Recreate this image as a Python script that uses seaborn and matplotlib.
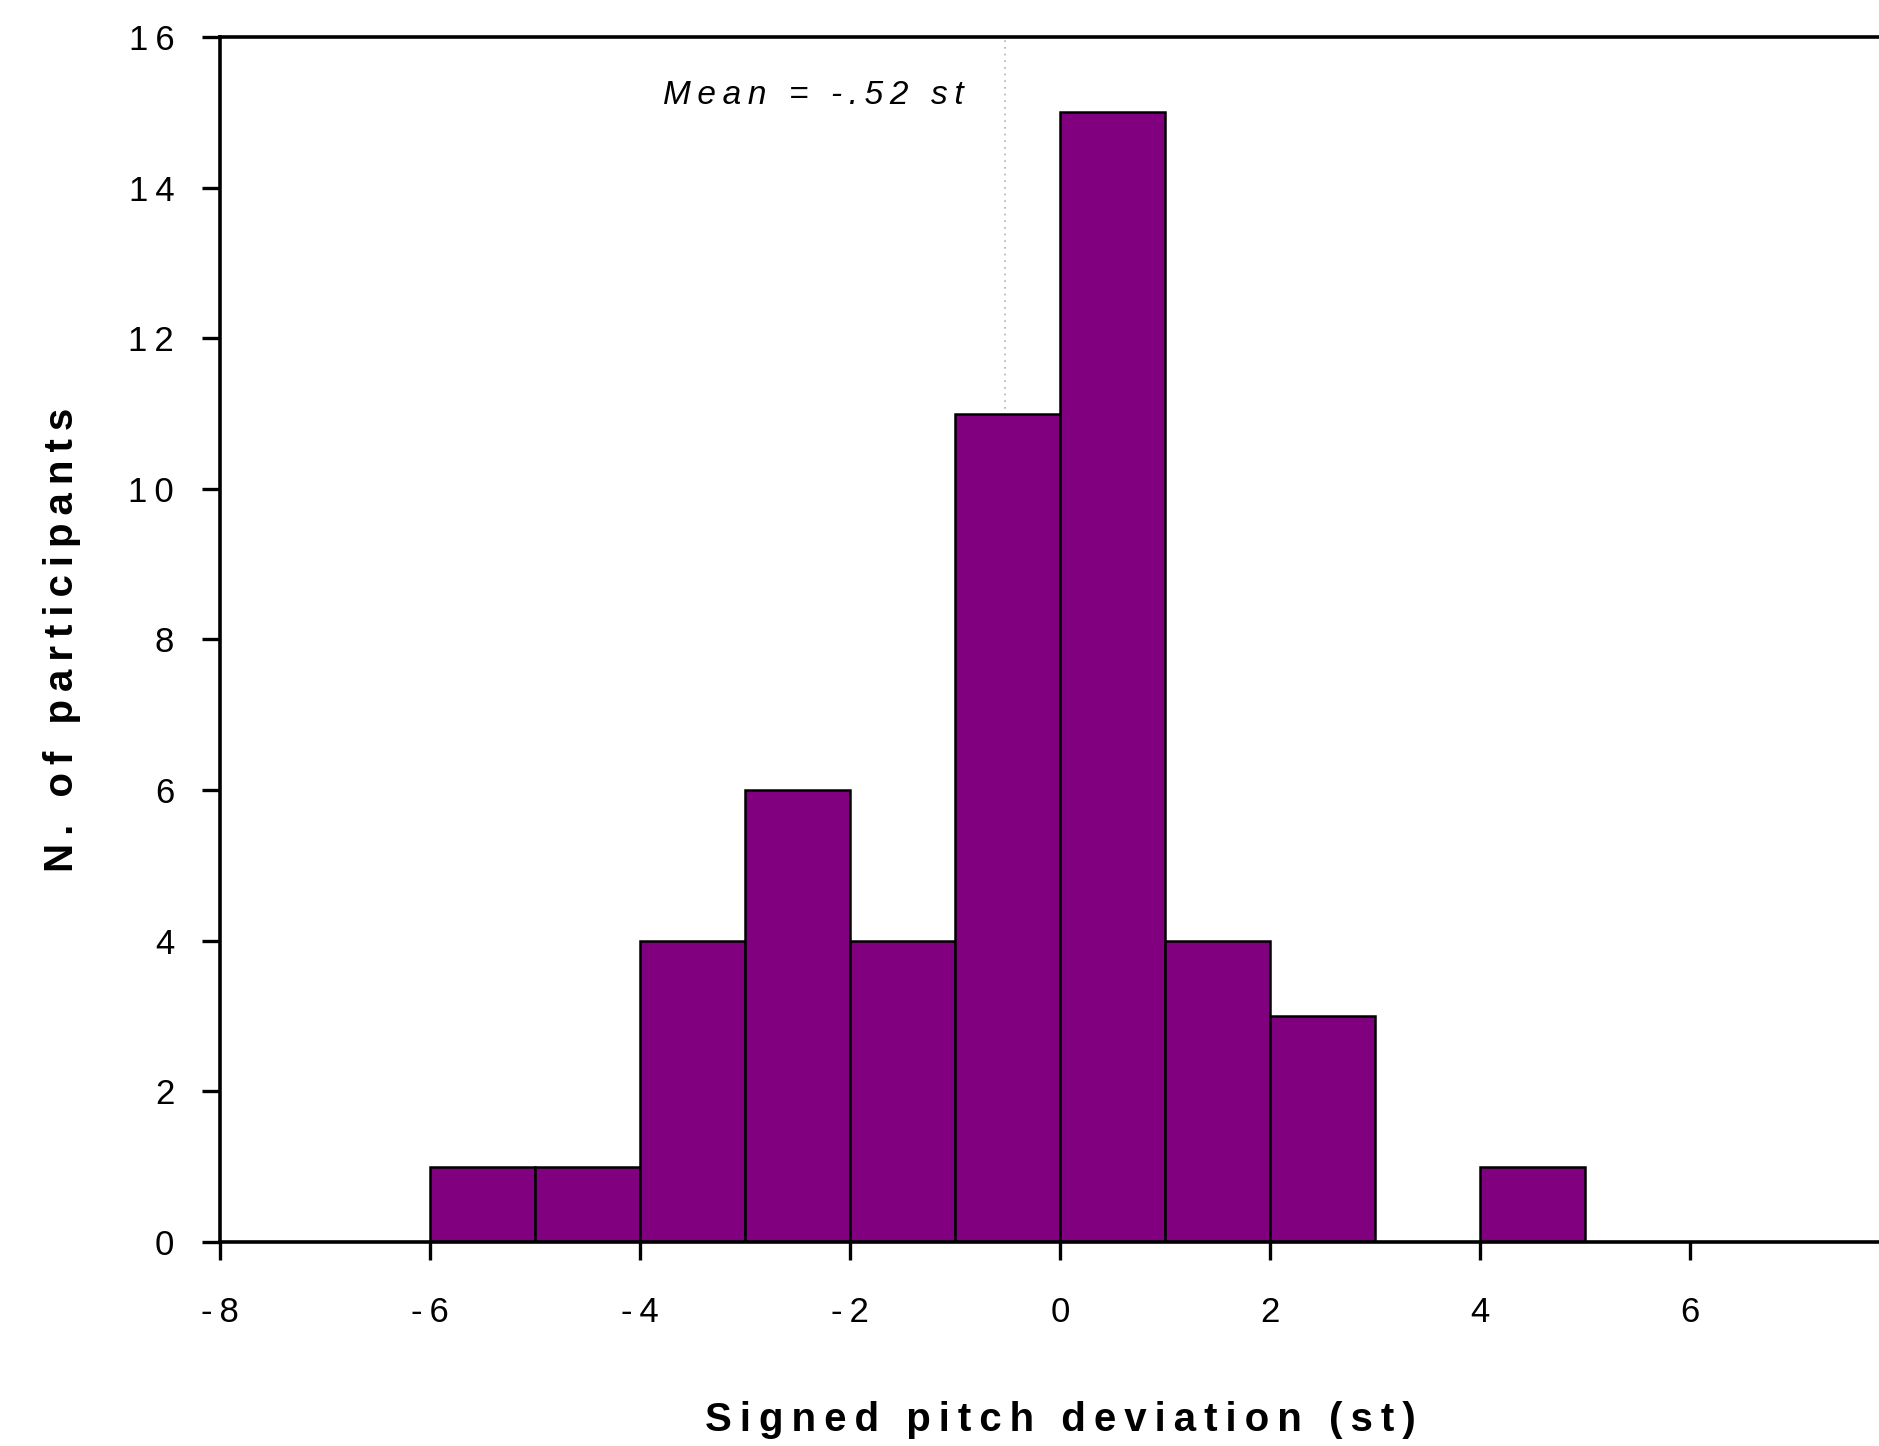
"""Histogram of signed pitch deviation across participants."""
import matplotlib
matplotlib.use("Agg")
import matplotlib.pyplot as plt
import numpy as np
import seaborn as sns

# bin edges (st) and participant counts per bin
bin_edges = [-6, -5, -4, -3, -2, -1, 0, 1, 2, 3, 4, 5]
counts = [1, 1, 4, 6, 4, 11, 15, 4, 3, 0, 1]
mean_dev = -0.52

x_ticks = [-8, -6, -4, -2, 0, 2, 4, 6]
y_ticks = [0, 2, 4, 6, 8, 10, 12, 14, 16]

FONT = ["Liberation Sans", "DejaVu Sans"]
TS = "\u2009"  # thin space


def spaced(s: str) -> str:
    # letter-spaced look of the original figure
    return (TS + " " + TS).join(TS.join(w) for w in s.split(" "))


sns.set_theme(style="white")
plt.rcParams["font.family"] = FONT
plt.rcParams.update({"text.color": "black", "axes.labelcolor": "black",
                     "xtick.color": "black", "ytick.color": "black"})

fig = plt.figure(figsize=(18.79, 14.46), dpi=100)
ax = fig.add_axes([220 / 1879, 1 - 1242 / 1446, 1680 / 1879, 1205 / 1446])

centers = [(a + b) / 2 for a, b in zip(bin_edges[:-1], bin_edges[1:])]
ax.axvline(mean_dev, color="#b0b0b0", lw=1.2, ls=(0, (1, 3)), zorder=0)
sns.histplot(x=centers, weights=counts, bins=bin_edges, ax=ax,
             color="#800080", edgecolor="black", linewidth=1.8, alpha=1.0, zorder=2)

ax.set_xlim(-8, 8)
ax.set_ylim(0, 16)
ax.set_xticks(x_ticks)
ax.set_yticks(y_ticks)
ax.set_xticklabels([spaced(str(v)) for v in x_ticks], fontsize=25)
ax.set_yticklabels([spaced(str(v)) for v in y_ticks], fontsize=25)
ax.tick_params(axis="x", direction="out", length=13, width=2.4, pad=26)
ax.tick_params(axis="y", direction="out", length=13, width=2.4, pad=20)
ax.tick_params(bottom=True, left=True)

for side in ["left", "bottom", "top"]:
    ax.spines[side].set_visible(True)
    ax.spines[side].set_color("black")
    ax.spines[side].set_linewidth(2.6)
ax.spines["right"].set_visible(False)

ax.set_xlabel(spaced("Signed pitch deviation (st)"),
              fontsize=29, fontweight="bold", labelpad=52)
ax.set_ylabel(spaced("N. of participants"),
              fontsize=29, fontweight="bold", labelpad=34)

ax.text(mean_dev - 0.4, 15.22, spaced("Mean = -.52 st"), ha="right", va="center",
        fontsize=24, style="italic")

fig.savefig("out.png", dpi=100)
